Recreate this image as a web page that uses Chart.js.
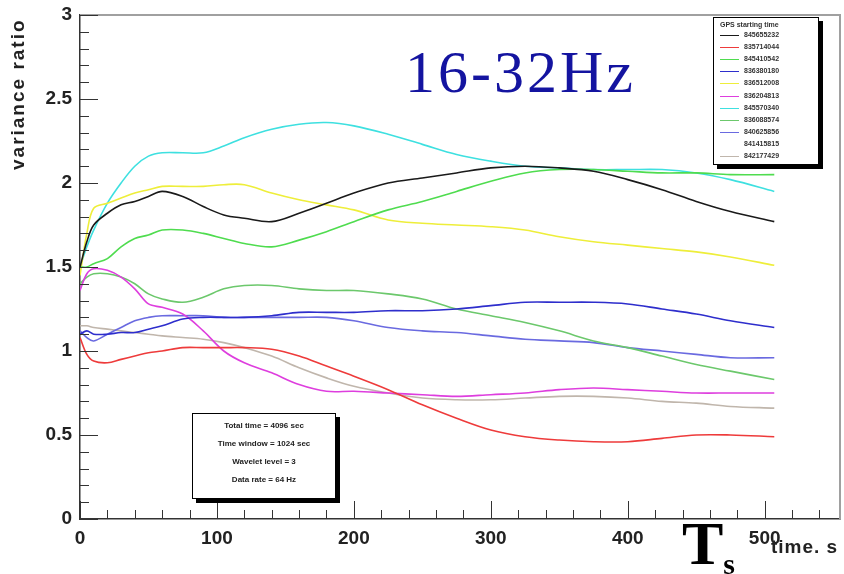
<!DOCTYPE html>
<html>
<head>
<meta charset="utf-8">
<script src="https://cdn.jsdelivr.net/npm/chart.js@4.4.1/dist/chart.umd.min.js"></script>
<style>
  body { margin: 0; background: #fff; }
  #wrap { position: relative; width: 844px; height: 574px; overflow: hidden; }
  #c { position: absolute; left: 0; top: 0; }
  .ov { position: absolute; white-space: nowrap; }
  #title { left: 405px; top: 42px; font: 60px "Liberation Serif", serif; letter-spacing: 3px; color: #1414a0; line-height: 1; }
  #ts { left: 682px; top: 512px; font: bold 62px "Liberation Serif", serif; color: #000; line-height: 1; }
  #ts sub { font-size: 30px; vertical-align: -10px; }
  #xt { left: 771px; top: 537px; font: bold 19px "Liberation Sans", sans-serif; letter-spacing: 1px; color: #222; line-height: 1; }
  #yt { left: 8px; top: 170px; font: bold 19px "Liberation Sans", sans-serif; letter-spacing: 2px; color: #222; line-height: 1;
        transform-origin: 0 0; transform: rotate(-90deg); }
  .box { position: absolute; background: #fff; border: 1px solid #000; box-shadow: 4px 4px 0 #000; }
  #stats { left: 192px; top: 413px; width: 142px; height: 84px; font: bold 8px "Liberation Sans", sans-serif; color: #222; }
  #stats div { position: absolute; left: 0; width: 142px; text-align: center; }
  #legend { left: 713px; top: 17px; width: 104px; height: 146px; font: bold 7px "Liberation Sans", sans-serif; color: #333; }
  #legend .row { position: absolute; left: 6px; height: 8px; }
  #legend .sw { position: absolute; left: 0; top: 4px; width: 19px; height: 1px; }
  #legend .lb { position: absolute; left: 24px; top: 0; line-height: 8px; }
</style>
</head>
<body>
<div id="wrap">
  <canvas id="c" width="844" height="574"></canvas>
  <div class="ov" id="title">16-32Hz</div>
  <div class="ov" id="ts">T<sub>s</sub></div>
  <div class="ov" id="xt">time. s</div>
  <div class="ov" id="yt">variance ratio</div>
  <div class="box" id="stats"></div>
  <div class="box" id="legend"></div>
</div>
<script>
// time axis (s) and one value list per GPS start time
const time = [0, 5, 10, 20, 30, 40, 50, 60, 75, 90, 105, 120, 140, 160, 180, 200, 225, 250, 275, 300, 325, 350, 375, 400, 425, 450, 475, 507];

const s845655232 = [1.50, 1.65, 1.75, 1.82, 1.87, 1.89, 1.92, 1.95, 1.92, 1.86, 1.81, 1.79, 1.77, 1.82, 1.88, 1.94, 2.00, 2.03, 2.06, 2.09, 2.10, 2.09, 2.07, 2.02, 1.96, 1.89, 1.83, 1.77];
const s835714044 = [1.08, 0.98, 0.94, 0.93, 0.95, 0.97, 0.99, 1.00, 1.02, 1.02, 1.02, 1.02, 1.01, 0.97, 0.91, 0.85, 0.77, 0.68, 0.60, 0.53, 0.49, 0.47, 0.46, 0.46, 0.48, 0.50, 0.50, 0.49];
const s845410542 = [1.50, 1.50, 1.52, 1.55, 1.62, 1.67, 1.69, 1.72, 1.72, 1.70, 1.67, 1.64, 1.62, 1.66, 1.71, 1.77, 1.84, 1.89, 1.95, 2.01, 2.06, 2.08, 2.08, 2.07, 2.06, 2.06, 2.05, 2.05];
const s836380180 = [1.10, 1.12, 1.10, 1.10, 1.11, 1.11, 1.13, 1.15, 1.19, 1.20, 1.20, 1.20, 1.21, 1.23, 1.23, 1.23, 1.24, 1.24, 1.25, 1.27, 1.29, 1.29, 1.29, 1.28, 1.25, 1.22, 1.18, 1.14];
const s836512008 = [1.45, 1.70, 1.85, 1.88, 1.91, 1.94, 1.96, 1.98, 1.98, 1.98, 1.99, 1.99, 1.94, 1.90, 1.87, 1.84, 1.78, 1.76, 1.75, 1.74, 1.72, 1.68, 1.65, 1.63, 1.61, 1.59, 1.56, 1.51];
const s836204813 = [1.36, 1.46, 1.49, 1.48, 1.44, 1.37, 1.28, 1.26, 1.22, 1.12, 1.00, 0.93, 0.87, 0.80, 0.76, 0.76, 0.75, 0.74, 0.73, 0.74, 0.75, 0.77, 0.78, 0.77, 0.76, 0.75, 0.75, 0.75];
const s845570340 = [1.50, 1.62, 1.72, 1.88, 2.00, 2.10, 2.16, 2.18, 2.18, 2.18, 2.22, 2.27, 2.32, 2.35, 2.36, 2.34, 2.29, 2.23, 2.17, 2.13, 2.10, 2.09, 2.08, 2.08, 2.08, 2.06, 2.02, 1.95];
const s836088574 = [1.40, 1.44, 1.46, 1.46, 1.44, 1.40, 1.34, 1.31, 1.29, 1.32, 1.37, 1.39, 1.39, 1.37, 1.36, 1.36, 1.34, 1.31, 1.25, 1.21, 1.17, 1.12, 1.06, 1.02, 0.97, 0.92, 0.88, 0.83];
const s840625856 = [1.12, 1.08, 1.06, 1.10, 1.14, 1.18, 1.20, 1.21, 1.21, 1.21, 1.20, 1.20, 1.20, 1.20, 1.20, 1.18, 1.14, 1.12, 1.11, 1.09, 1.07, 1.06, 1.05, 1.02, 1.00, 0.98, 0.96, 0.96];
const s841415815 = []; // drawn in white, nothing visible
const s842177429 = [1.15, 1.15, 1.14, 1.13, 1.12, 1.11, 1.10, 1.09, 1.08, 1.07, 1.05, 1.02, 0.97, 0.90, 0.84, 0.79, 0.75, 0.72, 0.71, 0.71, 0.72, 0.73, 0.73, 0.72, 0.70, 0.69, 0.67, 0.66];

const labels = ['845655232', '835714044', '845410542', '836380180', '836512008', '836204813',
                '845570340', '836088574', '840625856', '841415815', '842177429'];
const series = [s845655232, s835714044, s845410542, s836380180, s836512008, s836204813,
                s845570340, s836088574, s840625856, s841415815, s842177429];
const colors = ['#1a1a1a', '#ee3b3b', '#4fdc4f', '#2e2ecc', '#eeee3a', '#de3ede',
                '#3ee0e0', '#6cc86c', '#6a6ae0', '#ffffff', '#c0b6ac'];

const yTicks = [0, 0.5, 1, 1.5, 2, 2.5, 3];
const xTicks = [0, 100, 200, 300, 400, 500];

const statsText = ['Total time = 4096 sec', 'Time window = 1024 sec', 'Wavelet level = 3', 'Data rate = 64 Hz'];

// stats box
const stats = document.getElementById('stats');
statsText.forEach((t, i) => {
  const d = document.createElement('div');
  d.style.top = (7 + i * 18) + 'px';
  d.textContent = t;
  stats.appendChild(d);
});

// legend box
const legend = document.getElementById('legend');
const head = document.createElement('div');
head.className = 'row';
head.style.top = '3px';
head.textContent = 'GPS starting time';
legend.appendChild(head);
labels.forEach((l, i) => {
  const r = document.createElement('div');
  r.className = 'row';
  r.style.top = Math.round(13 + i * 12.1) + 'px';
  r.innerHTML = '<div class="sw" style="background:' + colors[i] + '"></div><div class="lb">' + l + '</div>';
  legend.appendChild(r);
});

// ROOT style frame + inward ticks
const rootFrame = {
  id: 'rootFrame',
  afterDraw(chart) {
    const { ctx, chartArea: a, scales: { x, y } } = chart;
    ctx.save();
    ctx.strokeStyle = '#a0a0a0';
    ctx.lineWidth = 2;
    ctx.beginPath();
    ctx.moveTo(a.left, a.top);
    ctx.lineTo(a.right, a.top);
    ctx.lineTo(a.right, a.bottom);
    ctx.stroke();

    ctx.strokeStyle = '#333';
    ctx.lineWidth = 1;
    ctx.beginPath();
    for (let k = 0; k <= 30; k++) {
      const py = Math.round(y.getPixelForValue(k / 10)) + 0.5;
      const len = k % 5 === 0 ? 18 : 9;
      ctx.moveTo(a.left, py);
      ctx.lineTo(a.left + len, py);
    }
    for (let t = 0; t <= x.max; t += 20) {
      const px = Math.round(x.getPixelForValue(t)) + 0.5;
      const len = t % 100 === 0 ? 18 : 9;
      ctx.moveTo(px, a.bottom);
      ctx.lineTo(px, a.bottom - len);
    }
    ctx.stroke();
    ctx.restore();
  }
};

const tickFont = { family: 'Liberation Sans', weight: 'bold', size: 19 };

new Chart(document.getElementById('c'), {
  type: 'line',
  data: {
    datasets: series.map((vals, i) => ({
      label: labels[i],
      data: vals.map((v, j) => ({ x: time[j], y: v })),
      borderColor: colors[i],
      borderWidth: 1.6,
      pointRadius: 0,
      tension: 0.35,
      fill: false,
      order: colors[i] === '#ffffff' ? 99 : i
    }))
  },
  options: {
    responsive: false,
    animation: false,
    layout: { padding: { top: 15, right: 4, left: 0, bottom: 0 } },
    plugins: { legend: { display: false }, tooltip: { enabled: false } },
    scales: {
      x: {
        type: 'linear', min: 0, max: 555,
        afterFit(s) { s.height = 55; },
        afterBuildTicks(s) { s.ticks = xTicks.map(v => ({ value: v })); },
        grid: { display: false },
        border: { display: true, color: '#333', width: 1.5 },
        ticks: { color: '#222', font: tickFont, padding: 0, maxRotation: 0, autoSkip: false }
      },
      y: {
        type: 'linear', min: 0, max: 3,
        afterFit(s) { s.width = 80; },
        afterBuildTicks(s) { s.ticks = yTicks.map(v => ({ value: v })); },
        grid: { display: false },
        border: { display: true, color: '#333', width: 1.5 },
        ticks: { color: '#222', font: tickFont, padding: 0, callback: v => String(v) }
      }
    }
  },
  plugins: [rootFrame]
});
</script>
</body>
</html>
